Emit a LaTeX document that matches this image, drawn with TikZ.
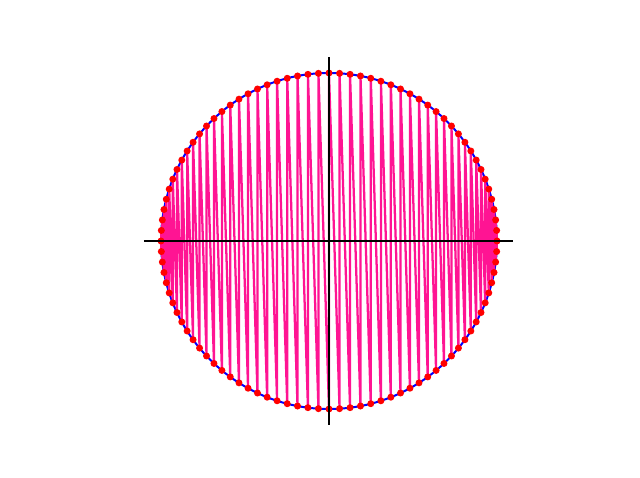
\documentclass[tikz,border=0pt]{standalone}
\usepackage{tikz}
\definecolor{chordpink}{HTML}{FF1493}
\definecolor{rimblue}{HTML}{0000FF}
\definecolor{dotred}{HTML}{FF0000}

\begin{document}
\begin{tikzpicture}[x=0.75pt,y=0.75pt,
  rim/.style={draw=rimblue,line width=1.5pt},
  chord/.style={draw=chordpink,line width=1.7pt,line join=round},
  dot/.style={fill=dotred},
  axis/.style={draw=black,line width=0.8pt}]
  \useasboundingbox (-329,-237) rectangle (311,241);
  % points on the circle: t above, b its mirror below
  \foreach \k in {0,...,50} {
    \coordinate (t\k) at (3.6*\k:168);
    \coordinate (b\k) at (-3.6*\k:168);
  }
  \coordinate (o) at (0,0);
  \draw[rim] (o) circle[radius=168];
  \draw[chord] (t0) -- (b0) \foreach \k in {1,...,50} { -- (t\k) -- (b\k) };
  \foreach \k in {0,...,50}
    \fill[dot] (t\k) circle[radius=3.5] (b\k) circle[radius=3.5];
  % axes
  \coordinate (xl) at (-185,0);
  \coordinate (xr) at (184,0);
  \coordinate (yb) at (0,-184);
  \coordinate (yt) at (0,184);
  \draw[axis] (xl) -- (xr);
  \draw[axis] (yb) -- (yt);
\end{tikzpicture}
\end{document}
